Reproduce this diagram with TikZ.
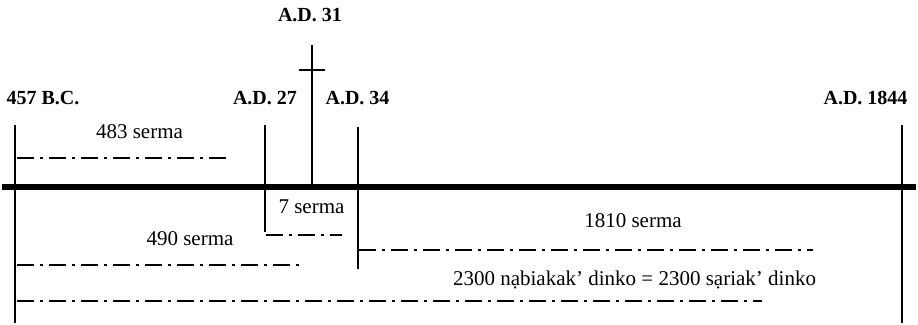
\documentclass[tikz,border=0pt]{standalone}
\usepackage{fontspec}
\setmainfont{Liberation Serif}
\begin{document}
\begin{tikzpicture}[x=1pt,y=-1pt]

  \tikzstyle{year}=[font=\fontsize{20}{24}\selectfont\bfseries,anchor=base,inner sep=0]
  \tikzstyle{span}=[font=\fontsize{21}{25}\selectfont,anchor=base,inner sep=0]
  \tikzstyle{axis}=[line width=5.5pt]
  \tikzstyle{tick}=[line width=2.5pt]
  \tikzstyle{period}=[line width=1.2pt,dash pattern=on 17pt off 6pt on 3pt off 6pt]

  \useasboundingbox (0,0) rectangle (918,324);

  \path
  (43,104) node[year](y457){457 B.C.}
  (265,104) node[year](y27){A.D. 27}
  (310,21) node[year](y31){A.D. 31}
  (357.5,104) node[year](y34){A.D. 34}
  (865.5,104) node[year](y1844){A.D. 1844};

  \path
  (2,187) coordinate(al)
  (916,187) coordinate(ar);

  \path
  (15,125) coordinate(t457) (15,323) coordinate(b457)
  (265,125) coordinate(t27) (265,232) coordinate(b27)
  (312,45) coordinate(t31) (312,187) coordinate(b31)
  (299,70) coordinate(cl) (325,70) coordinate(cr)
  (358,127) coordinate(t34) (358,269) coordinate(b34)
  (902,125) coordinate(t1844) (902,323) coordinate(b1844);

  \path
  (17,158) coordinate(p483l) (227,158) coordinate(p483r)
  (266,235) coordinate(p7l) (342,235) coordinate(p7r)
  (17,265) coordinate(p490l) (302,265) coordinate(p490r)
  (359,250) coordinate(p1810l) (813,250) coordinate(p1810r)
  (17,301) coordinate(p2300l) (762,301) coordinate(p2300r);

  \path
  (139.5,138) node[span](s483){483 serma}
  (311.5,213) node[span](s7){7 serma}
  (190,245) node[span](s490){490 serma}
  (633,227) node[span](s1810){1810 serma}
  (634.5,285) node[span](s2300){2300 nạbiakak’ dinko = 2300 sạriak’ dinko};

  \draw[axis] (al)--(ar);

  \draw[tick] (t457)--(b457);
  \draw[tick] (t27)--(b27);
  \draw[tick] (t31)--(b31);
  \draw[tick] (cl)--(cr);
  \draw[tick] (t34)--(b34);
  \draw[tick] (t1844)--(b1844);

  \draw[period] (p483l)--(p483r);
  \draw[period] (p7l)--(p7r);
  \draw[period] (p490l)--(p490r);
  \draw[period] (p1810l)--(p1810r);
  \draw[period] (p2300l)--(p2300r);
\end{tikzpicture}
\end{document}
